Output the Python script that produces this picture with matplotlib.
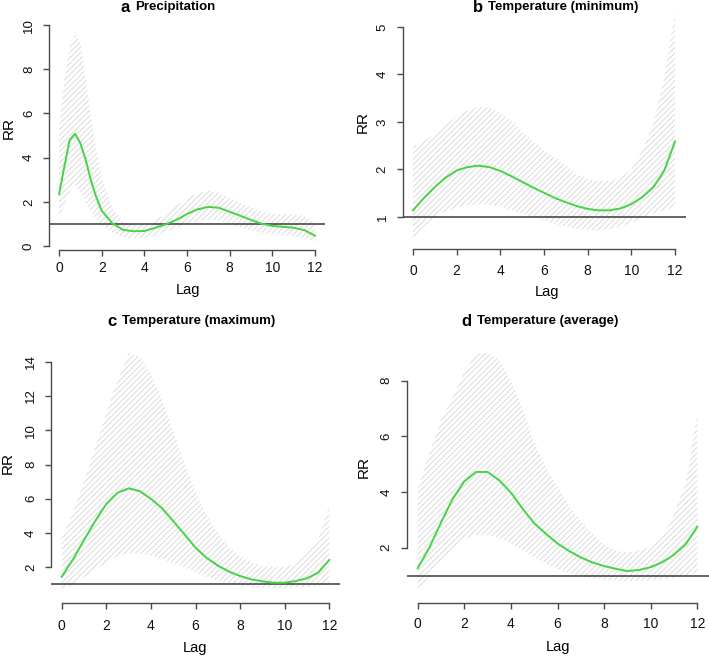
import matplotlib
matplotlib.use("Agg")
import matplotlib.pyplot as plt
import numpy as np

# lag grids
lag_a = [0, 0.25, 0.5, 0.75, 1.0, 1.25, 1.5, 1.75, 2.0, 2.5, 3, 3.5, 4, 4.5, 5, 5.5,
         6, 6.5, 7, 7.5, 8, 8.5, 9, 9.5, 10, 10.5, 11, 11.5, 12]
lag = [0, 0.5, 1, 1.5, 2, 2.5, 3, 3.5, 4, 4.5, 5, 5.5, 6, 6.5, 7, 7.5, 8, 8.5,
       9, 9.5, 10, 10.5, 11, 11.5, 12]

# a Precipitation
rr_a = [2.35, 3.6, 4.8, 5.08, 4.65, 3.9, 2.95, 2.2, 1.6, 1.03, 0.73, 0.67, 0.68, 0.82, 0.98,
        1.18, 1.45, 1.66, 1.77, 1.73, 1.55, 1.37, 1.18, 1.01, 0.91, 0.87, 0.83, 0.72, 0.47]
hi_a = [5.3, 7.5, 9.0, 9.6, 9.2, 7.6, 5.8, 4.3, 3.1, 1.7, 1.1, 0.95, 0.97, 1.15, 1.45,
        1.85, 2.15, 2.4, 2.5, 2.4, 2.2, 1.95, 1.75, 1.55, 1.45, 1.45, 1.45, 1.35, 1.1]
lo_a = [1.2, 1.8, 2.5, 2.75, 2.45, 2.0, 1.55, 1.2, 0.95, 0.6, 0.38, 0.35, 0.36, 0.45, 0.65,
        0.8, 1.0, 1.12, 1.2, 1.15, 1.0, 0.85, 0.7, 0.6, 0.52, 0.48, 0.45, 0.35, 0.2]

# b Temperature (minimum)
rr_b = [1.14, 1.40, 1.63, 1.83, 1.98, 2.05, 2.08, 2.05, 1.97, 1.86, 1.74, 1.62, 1.51,
        1.40, 1.31, 1.23, 1.17, 1.14, 1.14, 1.18, 1.27, 1.42, 1.62, 1.97, 2.59]
hi_b = [2.48, 2.60, 2.75, 2.95, 3.12, 3.25, 3.32, 3.30, 3.20, 3.02, 2.80, 2.60, 2.40,
        2.25, 2.10, 1.90, 1.80, 1.76, 1.76, 1.82, 2.00, 2.40, 2.95, 3.90, 5.35]
lo_b = [0.55, 0.80, 1.00, 1.12, 1.20, 1.25, 1.27, 1.26, 1.22, 1.15, 1.07, 1.00, 0.93,
        0.86, 0.80, 0.75, 0.72, 0.72, 0.74, 0.80, 0.88, 0.98, 1.08, 1.15, 1.20]

# c Temperature (maximum)
rr_c = [1.45, 2.45, 3.59, 4.70, 5.70, 6.35, 6.61, 6.45, 6.00, 5.45, 4.70, 3.93, 3.15,
        2.55, 2.10, 1.75, 1.49, 1.30, 1.18, 1.10, 1.10, 1.20, 1.36, 1.68, 2.43]
hi_c = [3.7, 5.2, 7.0, 9.0, 11.0, 12.9, 14.5, 14.3, 13.3, 11.8, 10.0, 8.1, 6.4,
        5.0, 4.0, 3.2, 2.65, 2.3, 2.1, 2.0, 2.03, 2.2, 2.8, 3.6, 5.6]
lo_c = [0.70, 1.00, 1.40, 1.85, 2.30, 2.65, 2.80, 2.80, 2.70, 2.50, 2.25, 2.00, 1.70,
        1.45, 1.22, 1.05, 0.92, 0.85, 0.80, 0.78, 0.80, 0.82, 0.86, 0.92, 1.00]

# d Temperature (average)
rr_d = [1.26, 2.00, 2.90, 3.75, 4.38, 4.72, 4.72, 4.42, 3.98, 3.40, 2.88, 2.50, 2.15,
        1.88, 1.65, 1.47, 1.34, 1.24, 1.16, 1.20, 1.30, 1.48, 1.75, 2.12, 2.75]
hi_d = [4.1, 5.4, 6.6, 7.4, 8.3, 8.95, 9.0, 8.75, 8.0, 7.0, 5.8, 4.9, 4.2,
        3.5, 2.95, 2.5, 2.1, 1.9, 1.82, 1.9, 2.05, 2.4, 3.2, 4.3, 6.8]
lo_d = [0.40, 1.00, 1.50, 1.95, 2.30, 2.45, 2.45, 2.35, 2.15, 1.90, 1.65, 1.42, 1.25,
        1.10, 0.98, 0.90, 0.85, 0.82, 0.80, 0.80, 0.82, 0.86, 0.92, 1.00, 1.10]

letters = ["a", "b", "c", "d"]
titles = ["Precipitation", "Temperature (minimum)", "Temperature (maximum)", "Temperature (average)"]
yticks = [[0, 2, 4, 6, 8, 10], [1, 2, 3, 4, 5], [2, 4, 6, 8, 10, 12, 14], [2, 4, 6, 8]]
xticks = [0, 2, 4, 6, 8, 10, 12]

W, H = 709, 657
plt.rcParams['font.family'] = ['Liberation Sans', 'DejaVu Sans']
plt.rcParams['hatch.linewidth'] = 0.55


def fx(px):
    return px / W


def fy(py):
    return 1 - py / H


def main():
    fig = plt.figure(figsize=(W / 100, H / 100), dpi=100)

    panels = [
        (lag_a, rr_a, lo_a, hi_a),
        (lag, rr_b, lo_b, hi_b),
        (lag, rr_c, lo_c, hi_c),
        (lag, rr_d, lo_d, hi_d),
    ]
    # plot region in pixels: left, right, top, bottom ; ylim
    boxes = [(48.8, 325.2, 20, 250), (402.5, 685.5, 8, 249),
             (51, 340, 345, 602.7), (406.5, 708.5, 345, 602.7)]
    ylims = [(-0.18, 10.23), (0.326, 5.4), (-0.067, 14.98), (0.024, 9.28)]
    xpads = [4, 6.5, 7.5, 6.5]
    # letter right edge, title text left edge, title y center
    title_pos = [(130, 135, 7), (483, 488, 7), (117, 122, 321), (472, 477, 321)]
    rr_pos = [(9, 128), (363, 122), (8, 463), (364, 467)]
    lag_pos = [(188, 290), (547, 292), (195, 648), (558, 647)]

    for i in range(4):
        lg, rr, lo, hi = panels[i]
        l, r, t, b = boxes[i]
        ax = fig.add_axes([fx(l), fy(b), (r - l) / W, (b - t) / H])
        ax.set_xlim(-0.48, 12.48)
        ax.set_ylim(*ylims[i])

        ax.fill_between(lg, lo, hi, facecolor='none', edgecolor='#d2d2d2',
                        hatch='//////', linewidth=0)
        ax.axhline(1, color='#3a3a3a', lw=1.1)
        ax.plot(lg, rr, color='#44d444', lw=1.4)

        for s in ['top', 'right']:
            ax.spines[s].set_visible(False)
        ax.spines['bottom'].set_bounds(0, 12)
        ax.spines['left'].set_bounds(yticks[i][0], yticks[i][-1])
        for s in ['bottom', 'left']:
            ax.spines[s].set_color('#4a4a4a')
            ax.spines[s].set_linewidth(1.0)

        ax.set_xticks(xticks)
        ax.set_yticks(yticks[i])
        ax.tick_params(axis='both', direction='out', length=4, width=1.0,
                       color='#4a4a4a', labelcolor='#111111')
        ax.tick_params(axis='x', pad=xpads[i], labelsize=10)
        ax.tick_params(axis='y', pad=6, labelrotation=90, labelsize=9.5)
        for lab in ax.get_yticklabels():
            lab.set_va('center')

        lx, tx, ty = title_pos[i]
        fig.text(fx(lx), fy(ty), letters[i], ha='right', va='center',
                 fontsize=12, fontweight='bold')
        fig.text(fx(tx), fy(ty), titles[i], ha='left', va='center',
                 fontsize=9.5, fontweight='bold')
        fig.text(fx(rr_pos[i][0]), fy(rr_pos[i][1]), "RR", rotation=90,
                 ha='center', va='center', fontsize=11)
        fig.text(fx(lag_pos[i][0]), fy(lag_pos[i][1]), "Lag",
                 ha='center', va='center', fontsize=10.5)

    fig.savefig("out.png", dpi=100)


if __name__ == '__main__':
    main()
